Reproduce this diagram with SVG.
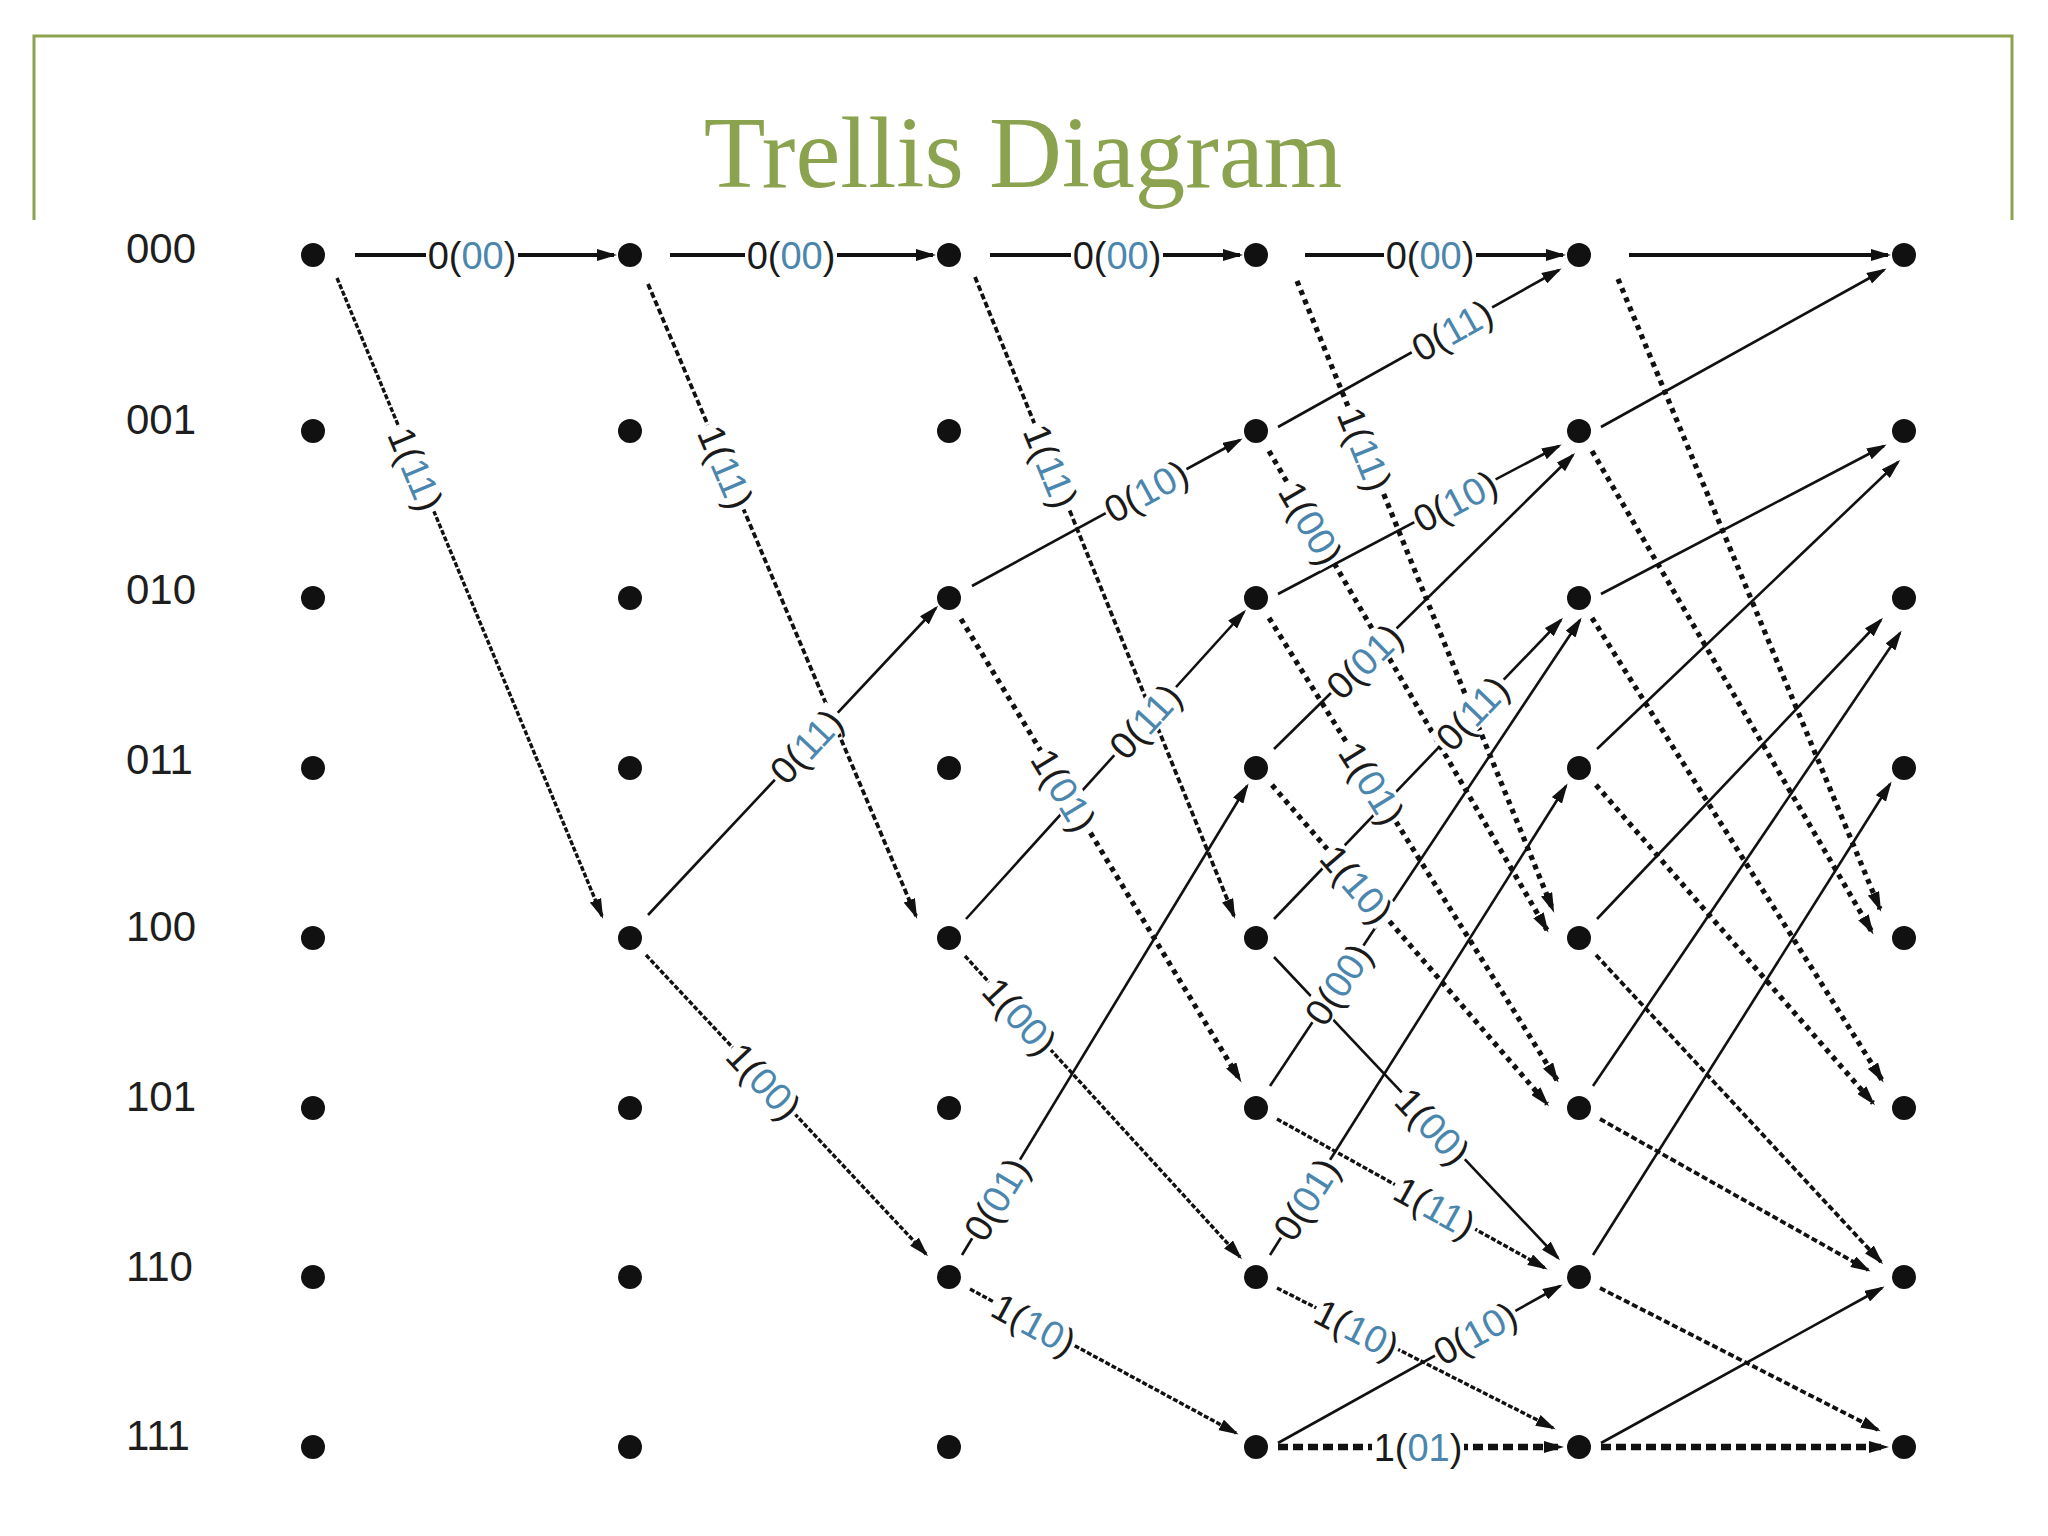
<svg xmlns="http://www.w3.org/2000/svg" width="2048" height="1536" viewBox="0 0 2048 1536">
<defs>
<style>
.frame{stroke:#8ba24e;stroke-width:3;fill:none}
.title{font-family:"Liberation Serif",serif;font-size:101px;fill:#8ba24e}
.row{font-family:"Liberation Sans",Arial,sans-serif;font-size:42px;fill:#1e1e1e}
.n{fill:#111}
.e{stroke:#111;stroke-width:2.6;fill:none;marker-end:url(#ah)}
.t{stroke-width:4}
.df{stroke-dasharray:5 2;stroke-width:3.4}
.dm{stroke-dasharray:6 3;stroke-width:3.8}
.dh{stroke-dasharray:5 5;stroke-width:5.2}
.dx{stroke-dasharray:10 5;stroke-width:6.5}
.bg{fill:#fff}
.lb{font-family:"Liberation Sans",Arial,sans-serif;font-size:38px;fill:#1a1a1a;text-anchor:middle}
.b{fill:#4a86ad}
</style>
<marker id="ah" viewBox="0 0 20 12" refX="17" refY="6" markerWidth="20" markerHeight="12" markerUnits="userSpaceOnUse" orient="auto"><path d="M0,0 L20,6 L0,12 z" fill="#111"/></marker>
</defs>
<rect width="2048" height="1536" fill="#fff"/>
<g id="frame">
<path class="frame" d="M34,220 V36 H2012 V220"/>
<text class="title" x="1023" y="187" text-anchor="middle">Trellis Diagram</text>
</g>
<g id="row-labels">
<text class="row" x="126" y="263">000</text>
<text class="row" x="126" y="434">001</text>
<text class="row" x="126" y="604">010</text>
<text class="row" x="126" y="774">011</text>
<text class="row" x="126" y="941">100</text>
<text class="row" x="126" y="1111">101</text>
<text class="row" x="126" y="1281">110</text>
<text class="row" x="126" y="1450">111</text>
</g>
<g id="connectors">
<line class="e t" x1="355" y1="255" x2="614" y2="255"/>
<line class="e df" x1="337" y1="278" x2="602" y2="916"/>
<line class="e t" x1="670" y1="255" x2="933" y2="255"/>
<line class="e dm" x1="648" y1="284" x2="916" y2="916"/>
<line class="e" x1="648" y1="915" x2="936" y2="608"/>
<line class="e df" x1="646" y1="955" x2="926" y2="1254"/>
<line class="e t" x1="990" y1="255" x2="1240" y2="255"/>
<line class="e dm" x1="975" y1="277" x2="1234" y2="916"/>
<line class="e" x1="972" y1="586" x2="1240" y2="440"/>
<line class="e dh" x1="961" y1="619" x2="1240" y2="1080"/>
<line class="e" x1="966" y1="919" x2="1244" y2="612"/>
<line class="e df" x1="965" y1="956" x2="1240" y2="1257"/>
<line class="e" x1="962" y1="1255" x2="1247" y2="786"/>
<line class="e df" x1="970" y1="1289" x2="1236" y2="1433"/>
<line class="e t" x1="1305" y1="255" x2="1563" y2="255"/>
<line class="e" x1="1278" y1="427" x2="1559" y2="270"/>
<line class="e dh" x1="1297" y1="281" x2="1553" y2="910"/>
<line class="e dh" x1="1269" y1="451" x2="1547" y2="930"/>
<line class="e" x1="1278" y1="594" x2="1559" y2="446"/>
<line class="e" x1="1274" y1="749" x2="1573" y2="455"/>
<line class="e dh" x1="1269" y1="618" x2="1557" y2="1080"/>
<line class="e dh" x1="1272" y1="785" x2="1547" y2="1104"/>
<line class="e" x1="1274" y1="919" x2="1561" y2="620"/>
<line class="e" x1="1274" y1="957" x2="1558" y2="1258"/>
<line class="e" x1="1270" y1="1086" x2="1580" y2="620"/>
<line class="e df" x1="1277" y1="1119" x2="1545" y2="1268"/>
<line class="e" x1="1270" y1="1255" x2="1566" y2="786"/>
<line class="e df" x1="1277" y1="1288" x2="1553" y2="1428"/>
<line class="e" x1="1278" y1="1443" x2="1560" y2="1286"/>
<line class="e dx" x1="1278" y1="1447" x2="1561" y2="1447"/>
<line class="e t" x1="1629" y1="255" x2="1888" y2="255"/>
<line class="e dh" x1="1618" y1="279" x2="1880" y2="909"/>
<line class="e" x1="1601" y1="427" x2="1884" y2="270"/>
<line class="e dh" x1="1592" y1="451" x2="1872" y2="932"/>
<line class="e" x1="1601" y1="594" x2="1884" y2="446"/>
<line class="e dh" x1="1592" y1="618" x2="1882" y2="1080"/>
<line class="e" x1="1597" y1="749" x2="1898" y2="462"/>
<line class="e dh" x1="1596" y1="785" x2="1873" y2="1103"/>
<line class="e" x1="1597" y1="919" x2="1881" y2="620"/>
<line class="e dm" x1="1596" y1="955" x2="1881" y2="1262"/>
<line class="e" x1="1593" y1="1086" x2="1900" y2="633"/>
<line class="e dm" x1="1600" y1="1119" x2="1868" y2="1270"/>
<line class="e" x1="1593" y1="1255" x2="1890" y2="784"/>
<line class="e dm" x1="1600" y1="1288" x2="1878" y2="1430"/>
<line class="e" x1="1601" y1="1443" x2="1882" y2="1288"/>
<line class="e dx" x1="1601" y1="1447" x2="1886" y2="1447"/>
</g>
<g id="edge-labels">
<g transform="translate(472,255)"><rect class="bg" x="-46" y="-16" width="92" height="32"/><text class="lb" dy="0.36em">0(<tspan class="b">00</tspan>)</text></g>
<g transform="translate(416,469) rotate(67.4)"><rect class="bg" x="-46" y="-16" width="92" height="32"/><text class="lb" dy="0.36em">1(<tspan class="b">11</tspan>)</text></g>
<g transform="translate(791,255)"><rect class="bg" x="-46" y="-16" width="92" height="32"/><text class="lb" dy="0.36em">0(<tspan class="b">00</tspan>)</text></g>
<g transform="translate(726,467) rotate(67)"><rect class="bg" x="-46" y="-16" width="92" height="32"/><text class="lb" dy="0.36em">1(<tspan class="b">11</tspan>)</text></g>
<g transform="translate(806,746) rotate(-46.8)"><rect class="bg" x="-46" y="-16" width="92" height="32"/><text class="lb" dy="0.36em">0(<tspan class="b">11</tspan>)</text></g>
<g transform="translate(764,1081) rotate(46.9)"><rect class="bg" x="-46" y="-16" width="92" height="32"/><text class="lb" dy="0.36em">1(<tspan class="b">00</tspan>)</text></g>
<g transform="translate(1117,255)"><rect class="bg" x="-46" y="-16" width="92" height="32"/><text class="lb" dy="0.36em">0(<tspan class="b">00</tspan>)</text></g>
<g transform="translate(1051,466) rotate(67.9)"><rect class="bg" x="-46" y="-16" width="92" height="32"/><text class="lb" dy="0.36em">1(<tspan class="b">11</tspan>)</text></g>
<g transform="translate(1146,491) rotate(-28.6)"><rect class="bg" x="-46" y="-16" width="92" height="32"/><text class="lb" dy="0.36em">0(<tspan class="b">10</tspan>)</text></g>
<g transform="translate(1064,790) rotate(58.8)"><rect class="bg" x="-46" y="-16" width="92" height="32"/><text class="lb" dy="0.36em">1(<tspan class="b">01</tspan>)</text></g>
<g transform="translate(1145,721) rotate(-47.8)"><rect class="bg" x="-46" y="-16" width="92" height="32"/><text class="lb" dy="0.36em">0(<tspan class="b">11</tspan>)</text></g>
<g transform="translate(1020,1016) rotate(47.6)"><rect class="bg" x="-46" y="-16" width="92" height="32"/><text class="lb" dy="0.36em">1(<tspan class="b">00</tspan>)</text></g>
<g transform="translate(996,1199) rotate(-58.7)"><rect class="bg" x="-46" y="-16" width="92" height="32"/><text class="lb" dy="0.36em">0(<tspan class="b">01</tspan>)</text></g>
<g transform="translate(1034,1324) rotate(28.4)"><rect class="bg" x="-46" y="-16" width="92" height="32"/><text class="lb" dy="0.36em">1(<tspan class="b">10</tspan>)</text></g>
<g transform="translate(1430,255)"><rect class="bg" x="-46" y="-16" width="92" height="32"/><text class="lb" dy="0.36em">0(<tspan class="b">00</tspan>)</text></g>
<g transform="translate(1452,330) rotate(-29.2)"><rect class="bg" x="-46" y="-16" width="92" height="32"/><text class="lb" dy="0.36em">0(<tspan class="b">11</tspan>)</text></g>
<g transform="translate(1365,449) rotate(67.9)"><rect class="bg" x="-46" y="-16" width="92" height="32"/><text class="lb" dy="0.36em">1(<tspan class="b">11</tspan>)</text></g>
<g transform="translate(1311,523) rotate(59.9)"><rect class="bg" x="-46" y="-16" width="92" height="32"/><text class="lb" dy="0.36em">1(<tspan class="b">00</tspan>)</text></g>
<g transform="translate(1455,501) rotate(-27.8)"><rect class="bg" x="-46" y="-16" width="92" height="32"/><text class="lb" dy="0.36em">0(<tspan class="b">10</tspan>)</text></g>
<g transform="translate(1364,661) rotate(-44.5)"><rect class="bg" x="-46" y="-16" width="92" height="32"/><text class="lb" dy="0.36em">0(<tspan class="b">01</tspan>)</text></g>
<g transform="translate(1372,783) rotate(58.1)"><rect class="bg" x="-46" y="-16" width="92" height="32"/><text class="lb" dy="0.36em">1(<tspan class="b">01</tspan>)</text></g>
<g transform="translate(1357,884) rotate(49.2)"><rect class="bg" x="-46" y="-16" width="92" height="32"/><text class="lb" dy="0.36em">1(<tspan class="b">10</tspan>)</text></g>
<g transform="translate(1472,713) rotate(-46.2)"><rect class="bg" x="-46" y="-16" width="92" height="32"/><text class="lb" dy="0.36em">0(<tspan class="b">11</tspan>)</text></g>
<g transform="translate(1433,1126) rotate(46.7)"><rect class="bg" x="-46" y="-16" width="92" height="32"/><text class="lb" dy="0.36em">1(<tspan class="b">00</tspan>)</text></g>
<g transform="translate(1338,984) rotate(-56.4)"><rect class="bg" x="-46" y="-16" width="92" height="32"/><text class="lb" dy="0.36em">0(<tspan class="b">00</tspan>)</text></g>
<g transform="translate(1435,1207) rotate(29.1)"><rect class="bg" x="-46" y="-16" width="92" height="32"/><text class="lb" dy="0.36em">1(<tspan class="b">11</tspan>)</text></g>
<g transform="translate(1306,1199) rotate(-57.7)"><rect class="bg" x="-46" y="-16" width="92" height="32"/><text class="lb" dy="0.36em">0(<tspan class="b">01</tspan>)</text></g>
<g transform="translate(1357,1329) rotate(26.9)"><rect class="bg" x="-46" y="-16" width="92" height="32"/><text class="lb" dy="0.36em">1(<tspan class="b">10</tspan>)</text></g>
<g transform="translate(1475,1333) rotate(-29.1)"><rect class="bg" x="-46" y="-16" width="92" height="32"/><text class="lb" dy="0.36em">0(<tspan class="b">10</tspan>)</text></g>
<g transform="translate(1418,1447)"><rect class="bg" x="-46" y="-16" width="92" height="32"/><text class="lb" dy="0.36em">1(<tspan class="b">01</tspan>)</text></g>
</g>
<g id="nodes">
<g id="n1-000"><circle class="n" cx="313" cy="255" r="12"/></g>
<g id="n1-001"><circle class="n" cx="313" cy="431" r="12"/></g>
<g id="n1-010"><circle class="n" cx="313" cy="598" r="12"/></g>
<g id="n1-011"><circle class="n" cx="313" cy="768" r="12"/></g>
<g id="n1-100"><circle class="n" cx="313" cy="938" r="12"/></g>
<g id="n1-101"><circle class="n" cx="313" cy="1108" r="12"/></g>
<g id="n1-110"><circle class="n" cx="313" cy="1277" r="12"/></g>
<g id="n1-111"><circle class="n" cx="313" cy="1447" r="12"/></g>
<g id="n2-000"><circle class="n" cx="630" cy="255" r="12"/></g>
<g id="n2-001"><circle class="n" cx="630" cy="431" r="12"/></g>
<g id="n2-010"><circle class="n" cx="630" cy="598" r="12"/></g>
<g id="n2-011"><circle class="n" cx="630" cy="768" r="12"/></g>
<g id="n2-100"><circle class="n" cx="630" cy="938" r="12"/></g>
<g id="n2-101"><circle class="n" cx="630" cy="1108" r="12"/></g>
<g id="n2-110"><circle class="n" cx="630" cy="1277" r="12"/></g>
<g id="n2-111"><circle class="n" cx="630" cy="1447" r="12"/></g>
<g id="n3-000"><circle class="n" cx="949" cy="255" r="12"/></g>
<g id="n3-001"><circle class="n" cx="949" cy="431" r="12"/></g>
<g id="n3-010"><circle class="n" cx="949" cy="598" r="12"/></g>
<g id="n3-011"><circle class="n" cx="949" cy="768" r="12"/></g>
<g id="n3-100"><circle class="n" cx="949" cy="938" r="12"/></g>
<g id="n3-101"><circle class="n" cx="949" cy="1108" r="12"/></g>
<g id="n3-110"><circle class="n" cx="949" cy="1277" r="12"/></g>
<g id="n3-111"><circle class="n" cx="949" cy="1447" r="12"/></g>
<g id="n4-000"><circle class="n" cx="1256" cy="255" r="12"/></g>
<g id="n4-001"><circle class="n" cx="1256" cy="431" r="12"/></g>
<g id="n4-010"><circle class="n" cx="1256" cy="598" r="12"/></g>
<g id="n4-011"><circle class="n" cx="1256" cy="768" r="12"/></g>
<g id="n4-100"><circle class="n" cx="1256" cy="938" r="12"/></g>
<g id="n4-101"><circle class="n" cx="1256" cy="1108" r="12"/></g>
<g id="n4-110"><circle class="n" cx="1256" cy="1277" r="12"/></g>
<g id="n4-111"><circle class="n" cx="1256" cy="1447" r="12"/></g>
<g id="n5-000"><circle class="n" cx="1579" cy="255" r="12"/></g>
<g id="n5-001"><circle class="n" cx="1579" cy="431" r="12"/></g>
<g id="n5-010"><circle class="n" cx="1579" cy="598" r="12"/></g>
<g id="n5-011"><circle class="n" cx="1579" cy="768" r="12"/></g>
<g id="n5-100"><circle class="n" cx="1579" cy="938" r="12"/></g>
<g id="n5-101"><circle class="n" cx="1579" cy="1108" r="12"/></g>
<g id="n5-110"><circle class="n" cx="1579" cy="1277" r="12"/></g>
<g id="n5-111"><circle class="n" cx="1579" cy="1447" r="12"/></g>
<g id="n6-000"><circle class="n" cx="1904" cy="255" r="12"/></g>
<g id="n6-001"><circle class="n" cx="1904" cy="431" r="12"/></g>
<g id="n6-010"><circle class="n" cx="1904" cy="598" r="12"/></g>
<g id="n6-011"><circle class="n" cx="1904" cy="768" r="12"/></g>
<g id="n6-100"><circle class="n" cx="1904" cy="938" r="12"/></g>
<g id="n6-101"><circle class="n" cx="1904" cy="1108" r="12"/></g>
<g id="n6-110"><circle class="n" cx="1904" cy="1277" r="12"/></g>
<g id="n6-111"><circle class="n" cx="1904" cy="1447" r="12"/></g>
</g>
</svg>
